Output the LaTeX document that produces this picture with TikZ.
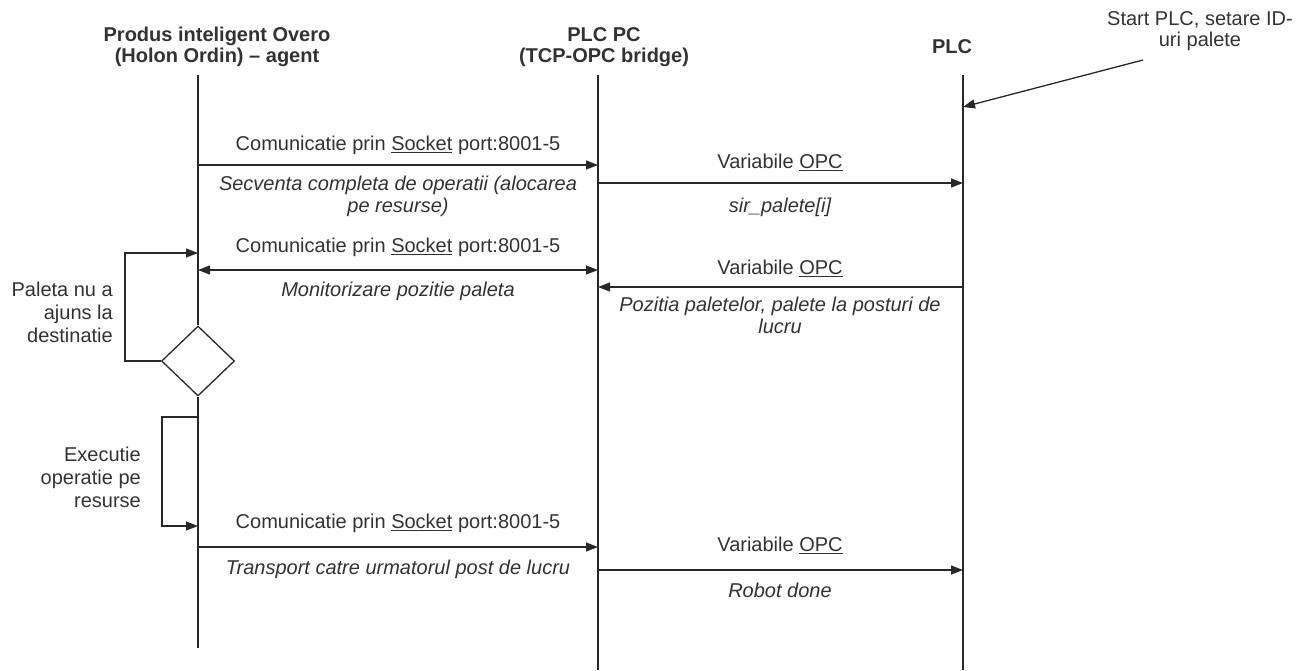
\documentclass[tikz,border=0pt]{standalone}
\usepackage{fontspec}
\setmainfont{Liberation Sans}
\usetikzlibrary{arrows.meta,shapes.geometric}
\definecolor{ink}{RGB}{40,40,40}
\definecolor{txt}{RGB}{50,50,50}
\begin{document}
\begin{tikzpicture}[x=1pt,y=-1pt,
  lbl/.style={font=\fontsize{20}{22}\selectfont, text=txt, inner sep=0pt, align=center},
  note/.style={lbl, font=\fontsize{20}{22}\selectfont\itshape},
  head/.style={lbl, font=\fontsize{20}{21.5}\selectfont\bfseries},
  side/.style={lbl, align=right, anchor=east, font=\fontsize{20}{23}\selectfont},
  life/.style={draw=ink, line width=1.3pt},
  msg/.style={draw=ink, line width=1.3pt, -{Triangle[length=12pt,width=9pt]}},
  msgboth/.style={draw=ink, line width=1.3pt, {Triangle[length=12pt,width=9pt]}-{Triangle[length=12pt,width=9pt]}},
  decision/.style={diamond, draw=ink, line width=1.3pt, fill=white, minimum width=73pt, minimum height=70pt, inner sep=0pt}]
\useasboundingbox (0,0) rectangle (1308,670);

% participants
\node[head] (hA) at (217,47) {Produs inteligent Overo\\(Holon Ordin) – agent};
\node[head] (hB) at (604,47) {PLC PC\\(TCP-OPC bridge)};
\node[head] (hC) at (952,47) {PLC};
\node[lbl, font=\fontsize{20}{21.5}\selectfont] (start) at (1200,31) {Start PLC, setare ID-\\uri palete};

% lifelines
\coordinate (A0) at (198,75);
\coordinate (A9) at (198,648);
\coordinate (B0) at (598,75);
\coordinate (B9) at (598,670);
\coordinate (C0) at (963,75);
\coordinate (C9) at (963,670);
\node[decision] (dec) at (198,361) {};
\draw[life] (A0) -- (dec.north);
\draw[life] (dec.south) -- (A9);
\draw[life] (B0) -- (B9);
\draw[life] (C0) -- (C9);

% start trigger
\coordinate (s0) at (1143,60);
\coordinate (c1) at (963,107);
\draw[msg] (s0) -- (c1);

% message points on the lifelines
\coordinate (a1) at (198,165);  \coordinate (b1) at (598,165);
\coordinate (b2) at (598,183);  \coordinate (c2) at (963,183);
\coordinate (a3) at (198,270);  \coordinate (b3) at (598,270);
\coordinate (b4) at (598,287);  \coordinate (c4) at (963,287);
\coordinate (r1) at (198,253);
\coordinate (e1) at (198,417);  \coordinate (e2) at (198,526);
\coordinate (a7) at (198,547);  \coordinate (b7) at (598,547);
\coordinate (b8) at (598,570);  \coordinate (c8) at (963,570);

% agent -> bridge: operation sequence
\draw[msg] (a1) -- (b1);
\node[lbl] (t1) at (398,145) {Comunicatie prin \underline{Socket} port:8001-5};
\node[note] (n1) at (398,196) {Secventa completa de operatii (alocarea\\pe resurse)};

% bridge -> PLC
\draw[msg] (b2) -- (c2);
\node[lbl] (t2) at (780,162) {Variabile \underline{OPC}};
\node[note] (n2) at (780,207) {sir\_palete[i]};

% position monitoring
\draw[msgboth] (a3) -- (b3);
\node[lbl] (t3) at (398,247) {Comunicatie prin \underline{Socket} port:8001-5};
\node[note] (n3) at (398,291) {Monitorizare pozitie paleta};

\draw[msg] (c4) -- (b4);
\node[lbl] (t4) at (780,268) {Variabile \underline{OPC}};
\node[note] (n4) at (780,315) {Pozitia paletelor, palete la posturi de\\lucru};

% wait loop
\draw[msg] (dec.west) -- ++(-36,0) |- (r1);
\node[side] (l1) at (113,312) {Paleta nu a\\ajuns la\\destinatie};

% execution on resources
\draw[msg] (e1) -- ++(-36,0) |- (e2);
\node[side] (l2) at (141,477) {Executie\\operatie pe\\resurse};

% transport to next station
\draw[msg] (a7) -- (b7);
\node[lbl] (t7) at (398,523) {Comunicatie prin \underline{Socket} port:8001-5};
\node[note] (n7) at (398,569) {Transport catre urmatorul post de lucru};

\draw[msg] (b8) -- (c8);
\node[lbl] (t8) at (780,545) {Variabile \underline{OPC}};
\node[note] (n8) at (780,590) {Robot done};
\end{tikzpicture}
\end{document}
